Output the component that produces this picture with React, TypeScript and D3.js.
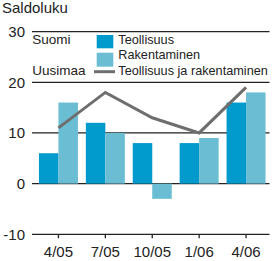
import React from "react";
import * as d3 from "d3";

const categories = ["4/05", "7/05", "10/05", "1/06", "4/06"];
const teollisuus = [6, 12, 8, 8, 16];
const rakentaminen = [16, 10, -3, 9, 18];
const yhteensa = [11, 18, 13, 10, 19];
const yTicks = [-10, 0, 10, 20, 30];

const W = 280;
const H = 261;
const FONT = "'Liberation Sans', Arial, Helvetica, sans-serif";
const DARK = "#009ACD";
const LIGHT = "#6BBDD3";
const GRAY = "#6E6E6E";

export default function App() {
  const y = d3.scaleLinear().domain([-10, 30]).range([234.3, 31.6]);
  const x0 = d3
    .scaleBand<string>()
    .domain(categories)
    .range([35, 269.5])
    .paddingInner(0.168)
    .paddingOuter(0.084);
  const x1 = d3.scaleBand<string>().domain(["t", "r"]).range([0, x0.bandwidth()]);
  const cx = (c: string) => (x0(c) as number) + x0.bandwidth() / 2;
  const line = d3
    .line<number>()
    .x((_, i) => cx(categories[i]))
    .y((v) => y(v));

  const bar = (v: number) => ({ y: Math.min(y(v), y(0)), h: Math.abs(y(v) - y(0)) });

  return (
    <div style={{ position: "absolute", left: 0, top: 0 }}>
      <svg width={W} height={H} style={{ display: "block" }} fontFamily={FONT}>
        <rect width={W} height={H} fill="#fff" />
        <text x={2} y={12.5} fontSize={15} fill="#222">Saldoluku</text>
        {yTicks.map((t) => (
          <g key={t}>
            <line x1={32} x2={269.5} y1={y(t)} y2={y(t)} stroke="#222" strokeWidth={1.3} />
            <text x={25} y={y(t) + 5.4} fontSize={15} textAnchor="end" fill="#222">
              {t}
            </text>
          </g>
        ))}
        {categories.map((c, i) => {
          const bt = bar(teollisuus[i]);
          const br = bar(rakentaminen[i]);
          return (
            <g key={c}>
              <rect x={(x0(c) as number) + (x1("t") as number)} y={bt.y} width={x1.bandwidth()} height={bt.h} fill={DARK} />
              <rect x={(x0(c) as number) + (x1("r") as number)} y={br.y} width={x1.bandwidth()} height={br.h} fill={LIGHT} />
              <line x1={cx(c)} x2={cx(c)} y1={y(-10)} y2={y(-10) + 4} stroke="#222" strokeWidth={1.3} />
              <text x={cx(c)} y={256.7} fontSize={15} textAnchor="middle" fill="#222">
                {c}
              </text>
            </g>
          );
        })}
        <path d={line(yhteensa) || ""} fill="none" stroke={GRAY} strokeWidth={3} />
        {/* legend */}
        <text x={32.3} y={43.5} fontSize={13.5} fill="#222">Suomi</text>
        <text x={32.3} y={75} fontSize={13.5} fill="#222">Uusimaa</text>
        <rect x={96.7} y={35} width={16.6} height={13.3} fill={DARK} />
        <rect x={96.7} y={52.7} width={16.6} height={14} fill={LIGHT} />
        <line x1={94} x2={115} y1={71.7} y2={71.7} stroke={GRAY} strokeWidth={3} />
        <text x={118.3} y={43.5} fontSize={12.7} fill="#222">Teollisuus</text>
        <text x={118.3} y={58.5} fontSize={12.7} fill="#222">Rakentaminen</text>
        <text x={118.3} y={75} fontSize={12.7} fill="#222">Teollisuus ja rakentaminen</text>
      </svg>
    </div>
  );
}
